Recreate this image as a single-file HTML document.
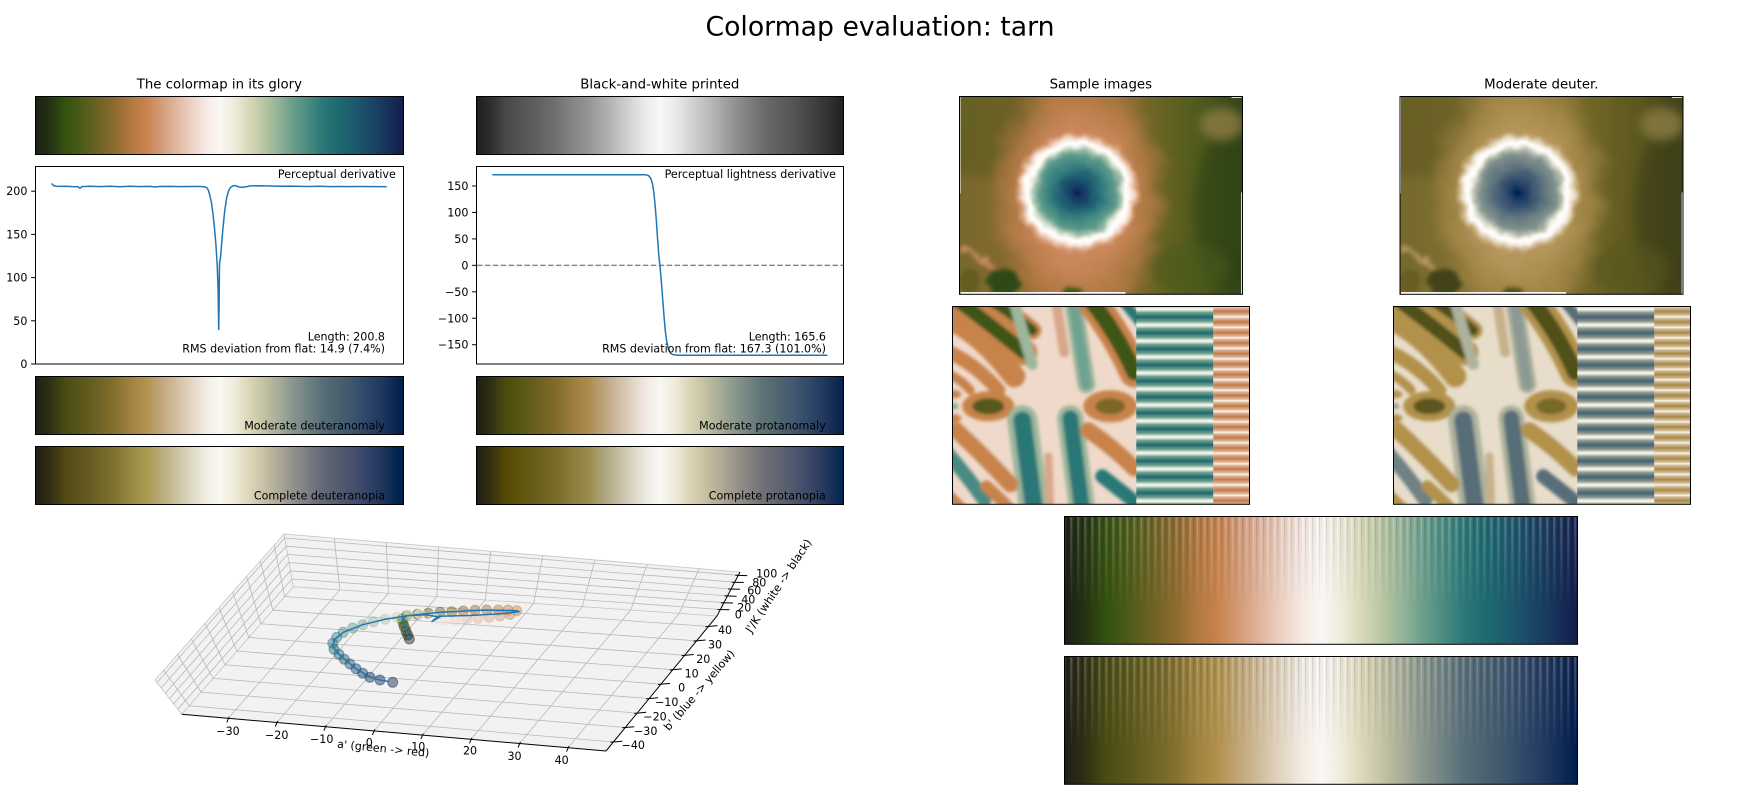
<!DOCTYPE html>
<html><head><meta charset="utf-8"><style>
html,body{margin:0;padding:0;background:#fff;}
svg{display:block;font-family:"DejaVu Sans","Liberation Sans",sans-serif;}
</style></head><body>
<svg width="1760" height="800" viewBox="0 0 1760 800" xmlns="http://www.w3.org/2000/svg">
<defs>
<linearGradient id="tarn" x1="0" y1="0" x2="1" y2="0">
<stop offset="0" stop-color="#1b1f13"/><stop offset="0.04" stop-color="#243214"/><stop offset="0.08" stop-color="#33500f"/>
<stop offset="0.12" stop-color="#485a17"/><stop offset="0.17" stop-color="#6b6224"/><stop offset="0.22" stop-color="#8f6b2e"/>
<stop offset="0.26" stop-color="#b27840"/><stop offset="0.30" stop-color="#c8834c"/><stop offset="0.34" stop-color="#d39a77"/>
<stop offset="0.38" stop-color="#dfb49c"/><stop offset="0.42" stop-color="#ebcfc0"/><stop offset="0.46" stop-color="#f5e8e1"/>
<stop offset="0.50" stop-color="#fbf7f4"/><stop offset="0.54" stop-color="#eeecdc"/><stop offset="0.58" stop-color="#d8d8b8"/>
<stop offset="0.62" stop-color="#b8c6a4"/><stop offset="0.66" stop-color="#94b398"/><stop offset="0.70" stop-color="#6a9e8c"/>
<stop offset="0.74" stop-color="#4a8b82"/><stop offset="0.78" stop-color="#2b7777"/><stop offset="0.82" stop-color="#1e6a70"/>
<stop offset="0.86" stop-color="#1d5c6e"/><stop offset="0.90" stop-color="#1b4b68"/><stop offset="0.94" stop-color="#183a5e"/>
<stop offset="1" stop-color="#131c4c"/>
</linearGradient>
<filter id="gray" color-interpolation-filters="linearRGB"><feColorMatrix type="matrix" values="0.2126 0.7152 0.0722 0 0 0.2126 0.7152 0.0722 0 0 0.2126 0.7152 0.0722 0 0 0 0 0 1 0"/></filter>
<filter id="deutM" color-interpolation-filters="linearRGB"><feColorMatrix type="matrix" values="0.547494 0.607765 -0.155259 0 0 0.181692 0.781742 0.036566 0 0 -0.010410 0.027275 0.983136 0 0 0 0 0 1 0"/></filter>
<filter id="deutC" color-interpolation-filters="linearRGB"><feColorMatrix type="matrix" values="0.367322 0.860646 -0.227968 0 0 0.280085 0.672501 0.047413 0 0 -0.011820 0.042940 0.968881 0 0 0 0 0 1 0"/></filter>
<filter id="protM" color-interpolation-filters="linearRGB"><feColorMatrix type="matrix" values="0.458064 0.679578 -0.137642 0 0 0.092785 0.846313 0.060902 0 0 -0.007494 -0.016807 1.024301 0 0 0 0 0 1 0"/></filter>
<filter id="protC" color-interpolation-filters="linearRGB"><feColorMatrix type="matrix" values="0.152286 1.052583 -0.204868 0 0 0.114503 0.786281 0.099216 0 0 -0.003882 -0.048116 1.051998 0 0 0 0 0 1 0"/></filter>
<filter id="b2" x="-20%" y="-20%" width="140%" height="140%"><feGaussianBlur stdDeviation="1.6"/></filter>
<filter id="b4" x="-50%" y="-50%" width="200%" height="200%"><feGaussianBlur stdDeviation="5"/></filter>
<filter id="b1" x="-20%" y="-20%" width="140%" height="140%"><feGaussianBlur stdDeviation="1.2"/></filter>
<filter id="rough" x="-15%" y="-15%" width="130%" height="130%"><feTurbulence type="fractalNoise" baseFrequency="0.07" numOctaves="2" seed="5" result="n"/><feDisplacementMap in="SourceGraphic" in2="n" scale="8" xChannelSelector="R" yChannelSelector="G" result="d"/><feGaussianBlur in="d" stdDeviation="0.8"/></filter>
<filter id="roughb" x="-30%" y="-30%" width="160%" height="160%"><feTurbulence type="fractalNoise" baseFrequency="0.08" numOctaves="2" seed="7" result="n"/><feDisplacementMap in="SourceGraphic" in2="n" scale="12" xChannelSelector="R" yChannelSelector="G" result="d"/><feGaussianBlur in="d" stdDeviation="2"/></filter>
<filter id="rough2" x="-15%" y="-15%" width="130%" height="130%"><feTurbulence type="fractalNoise" baseFrequency="0.04" numOctaves="2" seed="11" result="n"/><feDisplacementMap in="SourceGraphic" in2="n" scale="20" xChannelSelector="R" yChannelSelector="G" result="d"/><feGaussianBlur in="d" stdDeviation="2"/></filter>

<linearGradient id="stripe" gradientUnits="userSpaceOnUse" x1="1064" y1="0" x2="1071" y2="0" spreadMethod="repeat">
<stop offset="0" stop-color="#fff" stop-opacity="0.3"/><stop offset="0.3" stop-color="#fff" stop-opacity="0"/>
<stop offset="0.5" stop-color="#000" stop-opacity="0.2"/><stop offset="0.7" stop-color="#000" stop-opacity="0"/>
<stop offset="1" stop-color="#fff" stop-opacity="0.3"/>
</linearGradient>
<linearGradient id="fadeG" x1="0" y1="0" x2="0" y2="1">
<stop offset="0" stop-color="#fff" stop-opacity="1"/><stop offset="0.72" stop-color="#fff" stop-opacity="0"/>
</linearGradient>
<mask id="fade" maskContentUnits="objectBoundingBox"><rect width="1" height="1" fill="url(#fadeG)"/></mask>

<linearGradient id="tbase" x1="0" y1="0" x2="1" y2="0">
<stop offset="0" stop-color="#76682c"/><stop offset="0.15" stop-color="#84692f"/><stop offset="0.35" stop-color="#966e36"/>
<stop offset="0.55" stop-color="#8a6c30"/><stop offset="0.7" stop-color="#6a6424"/><stop offset="0.85" stop-color="#4e5a1c"/>
<stop offset="1" stop-color="#33461a"/>
</linearGradient>
<radialGradient id="halo" cx="0.5" cy="0.5" r="0.5">
<stop offset="0" stop-color="#d1906a"/><stop offset="0.5" stop-color="#ca875a"/>
<stop offset="0.76" stop-color="#bf7f4c" stop-opacity="0.7"/><stop offset="1" stop-color="#b07644" stop-opacity="0"/>
</radialGradient>
<radialGradient id="crater" cx="0.5" cy="0.5" r="0.5">
<stop offset="0" stop-color="#0e1f52"/><stop offset="0.08" stop-color="#143462"/><stop offset="0.25" stop-color="#1c5a70"/>
<stop offset="0.45" stop-color="#3a8480"/><stop offset="0.6" stop-color="#5f9a8c"/><stop offset="0.68" stop-color="#9fbfaa"/>
<stop offset="0.74" stop-color="#e6ece0"/><stop offset="0.78" stop-color="#ffffff"/><stop offset="0.82" stop-color="#fdf6f1"/>
<stop offset="0.88" stop-color="#f0d2bf" stop-opacity="0.9"/><stop offset="0.95" stop-color="#dca47e" stop-opacity="0.5"/>
<stop offset="1" stop-color="#d09060" stop-opacity="0"/>
</radialGradient>
<clipPath id="tclip"><rect width="283" height="198"/></clipPath>
<clipPath id="wclip"><rect width="297.4" height="198"/></clipPath>
<linearGradient id="stB" gradientUnits="userSpaceOnUse" x1="0" y1="50.7" x2="0" y2="66.7" spreadMethod="repeat">
<stop offset="0" stop-color="#fbf8f2"/><stop offset="0.08" stop-color="#d8e2d0"/><stop offset="0.22" stop-color="#6fa392"/>
<stop offset="0.5" stop-color="#1f6870"/><stop offset="0.78" stop-color="#6fa392"/><stop offset="0.92" stop-color="#d8e2d0"/>
<stop offset="1" stop-color="#fbf8f2"/>
</linearGradient>
<linearGradient id="stC" gradientUnits="userSpaceOnUse" x1="0" y1="0" x2="0" y2="10.5" spreadMethod="repeat">
<stop offset="0" stop-color="#fbf5f0"/><stop offset="0.15" stop-color="#e2b79a"/><stop offset="0.5" stop-color="#c07a48"/>
<stop offset="0.85" stop-color="#e2b79a"/><stop offset="1" stop-color="#fbf5f0"/>
</linearGradient>

<g id="terr">
<g clip-path="url(#tclip)">
<rect width="283" height="198" fill="url(#tbase)"/>
<ellipse cx="20" cy="30" rx="70" ry="50" fill="#55591d" opacity="0.5" filter="url(#b4)"/>
<ellipse cx="272" cy="115" rx="38" ry="80" fill="#2e4214" opacity="0.6" filter="url(#b4)"/>
<ellipse cx="262" cy="28" rx="22" ry="16" fill="#8e7c45" opacity="0.8" filter="url(#b4)"/>
<ellipse cx="230" cy="172" rx="40" ry="25" fill="#4a5a1c" opacity="0.6" filter="url(#b4)"/>
<g filter="url(#rough2)"><ellipse cx="120" cy="100" rx="92" ry="135" fill="url(#halo)"/></g>
<g filter="url(#roughb)">
<path d="M4,150 Q22,160 34,172" stroke="#c98a60" stroke-width="5" fill="none"/>
<ellipse cx="45" cy="186" rx="17" ry="14" fill="#2e4a14"/>
<ellipse cx="112" cy="197" rx="9" ry="5" fill="#3c5416"/>
</g>
<ellipse cx="10" cy="185" rx="10" ry="12" fill="#5a5a1e" opacity="0.7" filter="url(#b2)"/>
<g filter="url(#rough)"><ellipse cx="118" cy="96" rx="64" ry="62" fill="url(#crater)"/></g>
<rect x="1" y="195.8" width="165" height="2.2" fill="#fff"/>
<rect x="0" y="0" width="1" height="97" fill="#fff"/>
<rect x="281.7" y="96" width="1.3" height="102" fill="#fff"/>
<rect x="272" y="0.5" width="10" height="1" fill="#fff"/>
</g>
</g>

<g id="wave">
<g clip-path="url(#wclip)">
<rect width="297.4" height="198" fill="#efd9ca"/>
<g filter="url(#b2)" fill="none" stroke-linecap="round">
<path d="M-10,10 Q25,22 62,70" stroke="#c8834c" stroke-width="22"/>
<path d="M8,-4 Q40,20 72,46" stroke="#c8834c" stroke-width="26"/>
<path d="M8,-4 Q40,20 72,46" stroke="#3d5513" stroke-width="14"/>
<path d="M38,-6 Q58,6 80,24" stroke="#c8834c" stroke-width="18"/>
<path d="M38,-6 Q58,6 80,24" stroke="#3d5513" stroke-width="10"/>
<path d="M-8,44 Q22,56 46,84" stroke="#c8834c" stroke-width="14"/>
<path d="M-8,66 Q8,72 18,84" stroke="#c8834c" stroke-width="9"/>
<path d="M62,-4 Q70,25 80,58" stroke="#9db79b" stroke-width="11"/>
<path d="M104,-4 Q108,22 112,46" stroke="#d9a78a" stroke-width="10"/>
<path d="M121,-4 Q128,40 134,78" stroke="#9db79b" stroke-width="18"/>
<path d="M121,-4 Q128,40 134,78" stroke="#6fa292" stroke-width="11"/>
<path d="M140,-4 Q165,28 182,66" stroke="#c8834c" stroke-width="30"/>
<path d="M140,-4 Q165,28 182,66" stroke="#3d5513" stroke-width="16"/>
<path d="M170,-6 L188,16" stroke="#2b7777" stroke-width="10"/>
<ellipse cx="36" cy="100" rx="26" ry="15" fill="#c8834c"/>
<ellipse cx="36" cy="100" rx="16" ry="8" fill="#55591d"/>
<ellipse cx="158" cy="100" rx="27" ry="16" fill="#c8834c"/>
<ellipse cx="158" cy="100" rx="15" ry="8" fill="#7c6628"/>
<ellipse cx="2" cy="88" rx="7" ry="4" fill="#c8834c"/>
<ellipse cx="2" cy="112" rx="7" ry="4" fill="#c8834c"/>
<ellipse cx="2" cy="100" rx="4" ry="3" fill="#80a993"/>
<path d="M70,114 Q76,160 82,204" stroke="#9db79b" stroke-width="30"/>
<path d="M70,114 Q76,160 82,204" stroke="#2b7777" stroke-width="18"/>
<path d="M118,112 Q124,160 130,204" stroke="#9db79b" stroke-width="26"/>
<path d="M118,112 Q124,160 130,204" stroke="#2b7777" stroke-width="16"/>
<path d="M4,124 Q30,148 58,178" stroke="#c8834c" stroke-width="16"/>
<path d="M136,124 Q160,140 182,162" stroke="#c8834c" stroke-width="16"/>
<path d="M-6,146 Q14,168 32,194" stroke="#4a8b82" stroke-width="14"/>
<path d="M34,180 Q48,192 60,206" stroke="#c8834c" stroke-width="12"/>
<path d="M150,170 Q168,184 188,200" stroke="#2b7777" stroke-width="14"/>
<path d="M96,150 L98,202" stroke="#d9a78a" stroke-width="8"/>
<path d="M-6,186 L12,204" stroke="#c8834c" stroke-width="10"/>
</g>
<rect x="184" y="0" width="77" height="198" fill="url(#stB)"/>
<rect x="261" y="0" width="36.4" height="198" fill="url(#stC)"/>
</g>
</g>

<g id="band">
<rect x="1064" y="516.3" width="513.7" height="128" fill="url(#tarn)"/>
<rect x="1064" y="516.3" width="513.7" height="128" fill="url(#stripe)" mask="url(#fade)"/>
</g>
</defs>

<rect width="1760" height="800" fill="#fff"/>

<text x="880" y="35.5" font-size="26.7" text-anchor="middle">Colormap evaluation: tarn</text>

<g font-size="13.3" text-anchor="middle">
<text x="219.35" y="88.7">The colormap in its glory</text>
<text x="659.85" y="88.7">Black-and-white printed</text>
<text x="1100.8" y="88.7">Sample images</text>
<text x="1541.3" y="88.7">Moderate deuter.</text>
</g>

<rect x="35" y="96.3" width="368.7" height="58.4" fill="url(#tarn)"/>
<rect x="35" y="376" width="368.7" height="58.3" fill="url(#tarn)" filter="url(#deutM)"/>
<rect x="35" y="446" width="368.7" height="58.3" fill="url(#tarn)" filter="url(#deutC)"/>
<rect x="476" y="96.3" width="367.7" height="58.4" fill="url(#tarn)" filter="url(#gray)"/>
<rect x="476" y="376" width="367.7" height="58.3" fill="url(#tarn)" filter="url(#protM)"/>
<rect x="476" y="446" width="367.7" height="58.3" fill="url(#tarn)" filter="url(#protC)"/>
<g fill="none" stroke="#000" stroke-width="1">
<rect x="35.5" y="96.5" width="368" height="58"/>
<rect x="35.5" y="376.5" width="368" height="58"/>
<rect x="35.5" y="446.5" width="368" height="58"/>
<rect x="476.5" y="96.5" width="367" height="58"/>
<rect x="476.5" y="376.5" width="367" height="58"/>
<rect x="476.5" y="446.5" width="367" height="58"/>
</g>
<g font-size="11.1" text-anchor="end">
<text x="385" y="429.3">Moderate deuteranomaly</text>
<text x="385" y="499.3">Complete deuteranopia</text>
<text x="825.8" y="429.3">Moderate protanomaly</text>
<text x="825.8" y="499.3">Complete protanopia</text>
</g>

<rect x="35.5" y="166.5" width="368" height="197.5" fill="#fff" stroke="#000" stroke-width="1"/>
<path d="M51.7,183.5 L53.5,185.6 L56,186.2 L60,186.4 L66,186.2 L72,186.6 L78,186.8 L80,188.2 L82,186.6 L90,186.3 L100,186.6 L110,186.2 L120,186.7 L130,186.3 L140,186.6 L150,186.4 L155,187 L160,186.5 L170,186.4 L180,186.6 L190,186.5 L200,186.5 L205,186.9 L207,188 L208.5,190.5 L210,196 L211.5,203 L213,214 L214.5,228 L216,246 L217.2,265 L218.1,290 L218.7,329.5 L219.2,300 L219.4,270 L219.6,262 L220.3,259.5 L221.3,248 L222.7,231 L224.7,211 L226.7,197.5 L228.5,191 L230.5,187.5 L233.3,185.6 L236,185.8 L239,187 L242,187.4 L246,186.8 L250,185.9 L260,185.8 L270,186 L280,186.3 L290,186.1 L300,186.4 L310,186.5 L320,186.3 L330,186.6 L340,186.5 L350,186.6 L360,186.5 L370,186.6 L386.7,186.7" fill="none" stroke="#1f77b4" stroke-width="1.5" stroke-linejoin="round"/>
<g stroke="#000" stroke-width="1">
<line x1="31.1" y1="364" x2="35" y2="364"/><line x1="31.1" y1="320.8" x2="35" y2="320.8"/>
<line x1="31.1" y1="277.6" x2="35" y2="277.6"/><line x1="31.1" y1="234.4" x2="35" y2="234.4"/>
<line x1="31.1" y1="191.2" x2="35" y2="191.2"/>
</g>
<g font-size="11.1" text-anchor="end">
<text x="27.4" y="368">0</text><text x="27.4" y="324.8">50</text><text x="27.4" y="281.6">100</text>
<text x="27.4" y="238.4">150</text><text x="27.4" y="195.2">200</text>
<text x="395.8" y="178">Perceptual derivative</text>
<text x="385" y="340.5">Length: 200.8</text>
<text x="385" y="352.7">RMS deviation from flat: 14.9 (7.4%)</text>
</g>

<rect x="476.5" y="166.5" width="367" height="197.5" fill="#fff" stroke="#000" stroke-width="1"/>
<line x1="477" y1="265.35" x2="843.2" y2="265.35" stroke="#888" stroke-width="1.5" stroke-dasharray="5.5,2.4"/>
<path d="M492.3,174.7 L645,174.7 L647.5,175.2 L649.3,176.3 L651,179 L652.5,184 L653.8,192 L655,204 L656.3,220 L657.5,238 L658.8,255 L660,266 L661.3,281 L662.6,298 L664,316 L665.3,331 L666.8,342 L668.5,349.5 L670.5,353.3 L673.3,354.8 L678,355.2 L827.3,355.2" fill="none" stroke="#1f77b4" stroke-width="1.5" stroke-linejoin="round"/>
<g stroke="#000" stroke-width="1">
<line x1="472.1" y1="186" x2="476" y2="186"/><line x1="472.1" y1="212.45" x2="476" y2="212.45"/>
<line x1="472.1" y1="238.9" x2="476" y2="238.9"/><line x1="472.1" y1="265.35" x2="476" y2="265.35"/>
<line x1="472.1" y1="291.8" x2="476" y2="291.8"/><line x1="472.1" y1="318.25" x2="476" y2="318.25"/>
<line x1="472.1" y1="344.7" x2="476" y2="344.7"/>
</g>
<g font-size="11.1" text-anchor="end">
<text x="468.4" y="190">150</text><text x="468.4" y="216.45">100</text><text x="468.4" y="242.9">50</text>
<text x="468.4" y="269.35">0</text><text x="468.4" y="295.8">−50</text><text x="468.4" y="322.25">−100</text>
<text x="468.4" y="348.7">−150</text>
<text x="836" y="178">Perceptual lightness derivative</text>
<text x="826" y="340.5">Length: 165.6</text>
<text x="826" y="352.7">RMS deviation from flat: 167.3 (101.0%)</text>
</g>

<use href="#terr" transform="translate(959.5,96.3)"/>
<use href="#terr" transform="translate(1400,96.3)" filter="url(#deutM)"/>
<rect x="959.5" y="96.5" width="283" height="197.8" fill="none" stroke="#000" stroke-width="1"/>
<rect x="1400" y="96.5" width="283" height="197.8" fill="none" stroke="#000" stroke-width="1"/>
<use href="#wave" transform="translate(952.3,306.3)"/>
<use href="#wave" transform="translate(1393.3,306.3)" filter="url(#deutM)"/>
<rect x="952.5" y="306.5" width="297" height="197.8" fill="none" stroke="#000" stroke-width="1"/>
<rect x="1393.5" y="306.5" width="297" height="197.8" fill="none" stroke="#000" stroke-width="1"/>

<use href="#band"/>
<use href="#band" transform="translate(0,140)" filter="url(#deutM)"/>
<rect x="1064.5" y="516.5" width="513" height="127.8" fill="none" stroke="#000" stroke-width="1"/>
<rect x="1064.5" y="656.5" width="513" height="127.8" fill="none" stroke="#000" stroke-width="1"/>

<g>
<polygon points="181.7,714.3 606,751 717,616 293.3,586.7" fill="#f2f2f2"/>
<polygon points="293.3,586.7 717,616 740,572 284,534" fill="#f2f2f2"/>
<polygon points="181.7,714.3 293.3,586.7 284,534 155,680" fill="#f2f2f2"/>
<g fill="none" stroke="#c4c4c4" stroke-width="0.8">
<polyline points="181.7,714.3 155,680 284,534 740,572"/>
<polyline points="181.7,714.3 293.3,586.7 717,616"/>
<line x1="293.3" y1="586.7" x2="284" y2="534"/>
</g>
<g fill="none" stroke="#b8b8b8" stroke-width="0.8">
<polyline points="228.4,718.3 339.9,589.9 334.2,538.2"/>
<polyline points="276.9,722.5 388.4,593.3 386.3,542.5"/>
<polyline points="325.5,726.7 436.9,596.6 438.5,546.9"/>
<polyline points="374.0,730.9 485.3,600.0 490.7,551.2"/>
<polyline points="422.5,735.1 533.8,603.3 542.8,555.6"/>
<polyline points="471.1,739.3 582.3,606.7 595.0,559.9"/>
<polyline points="519.6,743.5 630.7,610.0 647.2,564.3"/>
<polyline points="568.1,747.7 679.2,613.4 699.3,568.6"/>
<polyline points="613.4,742.0 189.2,705.8 163.6,670.2"/>
<polyline points="625.3,727.5 201.1,692.1 177.4,654.6"/>
<polyline points="637.2,713.1 213.1,678.4 191.2,639.0"/>
<polyline points="649.1,698.6 225.0,664.8 205.1,623.4"/>
<polyline points="661.0,684.2 236.9,651.1 218.9,607.7"/>
<polyline points="672.8,669.7 248.9,637.5 232.7,592.1"/>
<polyline points="684.7,655.3 260.8,623.8 246.5,576.5"/>
<polyline points="696.6,640.8 272.8,610.2 260.3,560.9"/>
<polyline points="708.5,626.4 284.7,596.5 274.1,545.2"/>
<polyline points="157.0,682.6 284.7,538.0 738.3,575.3"/>
<polyline points="161.2,687.9 286.2,546.2 734.7,582.2"/>
<polyline points="165.3,693.3 287.6,554.4 731.1,589.0"/>
<polyline points="169.5,698.6 289.0,562.6 727.5,595.9"/>
<polyline points="173.6,703.9 290.5,570.8 724.0,602.7"/>
<polyline points="177.8,709.3 291.9,579.0 720.4,609.5"/>
</g>
<g fill="none" stroke="#000" stroke-width="1">
<line x1="181.7" y1="714.3" x2="606" y2="751"/>
<polyline points="606,751 717,616 740,572"/>
<path d="M229.2,716.8 L226.8,722.3 M277.7,721 L275.3,726.5 M326.3,725.2 L323.9,730.7 M374.8,729.4 L372.4,734.9 M423.3,733.6 L420.9,739.1 M471.9,737.8 L469.5,743.3 M520.4,742 L518,747.5 M568.9,746.2 L566.5,751.7"/>
<path d="M610.4,742.3 L622.4,741.2 M622.3,727.8 L634.3,726.7 M634.2,713.4 L646.2,712.3 M646.1,698.9 L658.1,697.8 M658,684.5 L670,683.4 M669.8,670 L681.8,668.9 M681.7,655.6 L693.7,654.5 M693.6,641.1 L705.6,640 M705.5,626.7 L717.5,625.6"/>
<path d="M735.3,575.3 L747.3,575.6 M731.7,582.2 L743.7,582.5 M728.1,589 L740.1,589.3 M724.5,595.9 L736.5,596.2 M721,602.7 L733,603 M717.4,609.5 L729.4,609.8"/>
</g>
<g font-size="11.1" text-anchor="middle">
<text x="228" y="735">−30</text><text x="276.7" y="739">−20</text><text x="321.7" y="743">−10</text>
<text x="369.3" y="746.7">0</text><text x="418.3" y="750.7">10</text><text x="470" y="754.7">20</text>
<text x="514.5" y="760">30</text><text x="561.7" y="764">40</text>
<text x="633.3" y="749">−40</text><text x="645.7" y="735">−30</text><text x="655" y="720.7">−20</text>
<text x="666.7" y="706">−10</text><text x="681.7" y="691.3">0</text><text x="691.7" y="677.3">10</text>
<text x="703.3" y="663">20</text><text x="715" y="648.7">30</text><text x="725" y="634">40</text>
<text x="738.3" y="618.3">0</text><text x="744.3" y="611.3">20</text><text x="748.3" y="603.3">40</text>
<text x="754.3" y="594.3">60</text><text x="759.3" y="586.3">80</text><text x="766.7" y="577.3">100</text>
<text transform="translate(383.3,748.3) rotate(5.7)" y="4">a' (green -&gt; red)</text>
<text transform="translate(699,690) rotate(-49.5)" y="4">b' (blue -&gt; yellow)</text>
<text transform="translate(778.3,585.7) rotate(-56.3)" y="4">J'/K (white -&gt; black)</text>
</g>
<g fill-opacity="0.45" stroke-opacity="0.45" stroke-width="1">
<circle cx="409.3" cy="639" r="5" fill="#1b1f13" stroke="#1b1f13"/>
<circle cx="407.7" cy="635" r="5" fill="#202914" stroke="#202914"/>
<circle cx="406" cy="631" r="5" fill="#243214" stroke="#243214"/>
<circle cx="404.3" cy="626.7" r="5" fill="#2c4112" stroke="#2c4112"/>
<circle cx="403" cy="622.7" r="5" fill="#33500f" stroke="#33500f"/>
<circle cx="402.3" cy="619" r="5" fill="#3d5513" stroke="#3d5513"/>
<circle cx="406.7" cy="615.7" r="5" fill="#485a17" stroke="#485a17"/>
<circle cx="417.5" cy="614.3" r="5" fill="#545d1b" stroke="#545d1b"/>
<circle cx="428.3" cy="613.3" r="5" fill="#615f1f" stroke="#615f1f"/>
<circle cx="440" cy="612.3" r="5" fill="#6d6224" stroke="#6d6224"/>
<circle cx="451.7" cy="611.7" r="5" fill="#7c6628" stroke="#7c6628"/>
<circle cx="463.3" cy="611" r="5" fill="#8a6a2d" stroke="#8a6a2d"/>
<circle cx="475" cy="610.3" r="5" fill="#9a6f33" stroke="#9a6f33"/>
<circle cx="486.7" cy="610" r="5" fill="#a8743a" stroke="#a8743a"/>
<circle cx="498.3" cy="610" r="5" fill="#b47a42" stroke="#b47a42"/>
<circle cx="508" cy="610" r="5" fill="#bf7f48" stroke="#bf7f48"/>
<circle cx="516.7" cy="610.7" r="5" fill="#c8834c" stroke="#c8834c"/>
<circle cx="510" cy="614.5" r="5" fill="#cd8e62" stroke="#cd8e62"/>
<circle cx="500" cy="616" r="5" fill="#d39a77" stroke="#d39a77"/>
<circle cx="489" cy="617.3" r="5" fill="#d9a78a" stroke="#d9a78a"/>
<circle cx="478" cy="618.3" r="5" fill="#dfb49c" stroke="#dfb49c"/>
<circle cx="467" cy="619" r="5" fill="#e5c2ae" stroke="#e5c2ae"/>
<circle cx="456" cy="619.7" r="5" fill="#ebcfc0" stroke="#ebcfc0"/>
<circle cx="445" cy="620" r="5" fill="#f0dcd0" stroke="#f0dcd0"/>
<circle cx="438" cy="620.5" r="5" fill="#f5e8e1" stroke="#f5e8e1"/>
<circle cx="433" cy="616.5" r="5" fill="#fbf7f4" stroke="#e8e4e0"/>
<circle cx="420" cy="614" r="5" fill="#f1efe1" stroke="#f1efe1"/>
<circle cx="408.3" cy="615.3" r="5" fill="#e3e2c8" stroke="#e3e2c8"/>
<circle cx="396.7" cy="617.3" r="5" fill="#d0d3b2" stroke="#d0d3b2"/>
<circle cx="385" cy="619.3" r="5" fill="#b8c6a4" stroke="#b8c6a4"/>
<circle cx="373.3" cy="621.7" r="5" fill="#9db79b" stroke="#9db79b"/>
<circle cx="362.7" cy="624.7" r="5" fill="#7fa892" stroke="#7fa892"/>
<circle cx="352.7" cy="628" r="5" fill="#649a8a" stroke="#649a8a"/>
<circle cx="343.3" cy="632.3" r="5" fill="#4a8b82" stroke="#4a8b82"/>
<circle cx="336.7" cy="637.3" r="5" fill="#317b79" stroke="#317b79"/>
<circle cx="332.7" cy="643.3" r="5" fill="#257174" stroke="#257174"/>
<circle cx="334" cy="649.3" r="5" fill="#1e6870" stroke="#1e6870"/>
<circle cx="339" cy="654.3" r="5" fill="#1d5c6e" stroke="#1d5c6e"/>
<circle cx="344.3" cy="659.3" r="5" fill="#1c546b" stroke="#1c546b"/>
<circle cx="350" cy="664" r="5" fill="#1b4b68" stroke="#1b4b68"/>
<circle cx="356" cy="668.7" r="5" fill="#1a4363" stroke="#1a4363"/>
<circle cx="362.7" cy="673.3" r="5" fill="#183a5e" stroke="#183a5e"/>
<circle cx="370" cy="677.3" r="5" fill="#162f58" stroke="#162f58"/>
<circle cx="380" cy="680" r="5" fill="#152552" stroke="#152552"/>
<circle cx="392.7" cy="682.3" r="5" fill="#131c4c" stroke="#131c4c"/>
</g>
<polyline points="409.3,639 402.3,619 406.7,615.7 440,612.3 486.7,610 516.7,610.7 519,611.5 505,613.5 470,615.5 438,616.3 432,621.5 440,617 425,614.8 408,615.6 385,619.3 362.7,624.7 343.3,632.3 334,640 333,647 339,654.3 356,668.7 370,677.3 380,680 389,681.5" fill="none" stroke="#1f77b4" stroke-width="1.5" stroke-linejoin="round"/>
</g>
</svg>
</body></html>
